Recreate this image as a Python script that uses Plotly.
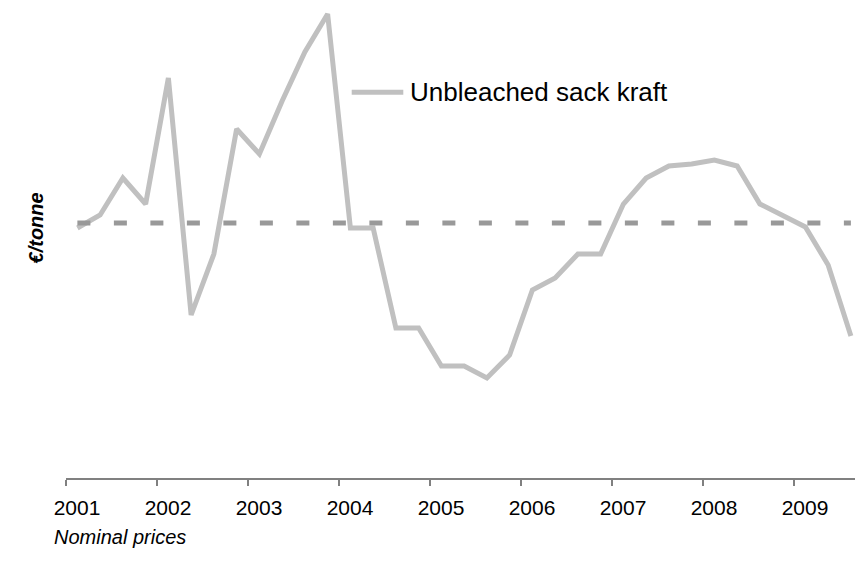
import plotly.graph_objects as go

# Quarterly data, 2001 Q1 .. 2009 Q3 (values in €/tonne, estimated)
quarters = [f"{y} Q{q}" for y in range(2001, 2010) for q in range(1, 5)][:35]
kraft_price = [595, 608, 645, 619, 745, 508, 569, 694, 669, 722, 771, 809,
               595, 595, 495, 495, 457, 457, 445, 468, 533, 545, 569, 569,
               619, 645, 657, 659, 663, 657, 619, 607, 596, 558, 487]
average_price = [600] * len(kraft_price)
year_labels = [str(y) for y in range(2001, 2010)]
series_name = "Unbleached sack kraft"

FONT = "Liberation Sans, Arial, sans-serif"
idx = list(range(len(quarters)))

fig = go.Figure()
fig.add_trace(go.Scatter(
    x=idx, y=kraft_price, mode="lines", name=series_name,
    line=dict(color="#c0c0c0", width=5), hoverinfo="skip",
    customdata=quarters,
))
fig.add_trace(go.Scatter(
    x=idx, y=average_price, mode="lines", name="Average",
    line=dict(color="#999999", width=5, dash="13px,23.5px"), hoverinfo="skip",
))

# legend-style key drawn next to the line
fig.add_shape(type="line", xref="paper", yref="paper",
              x0=0.3621, x1=0.4275, y0=0.8206, y1=0.8206,
              line=dict(color="#c0c0c0", width=5))
fig.add_annotation(text=series_name, xref="paper", yref="paper",
                   x=0.4335, y=0.8206, xanchor="left", yanchor="middle",
                   showarrow=False, font=dict(family=FONT, size=26, color="#000000"))

fig.add_annotation(text="<b><i>€/tonne</i></b>", xref="paper", yref="paper",
                   x=-0.0368, y=0.533, xanchor="center", yanchor="middle",
                   textangle=-90, showarrow=False,
                   font=dict(family=FONT, size=20, color="#000000"))
fig.add_annotation(text="<i>Nominal prices</i>", xref="paper", yref="paper",
                   x=-0.0177, y=-0.1255, xanchor="left", yanchor="middle",
                   showarrow=False, font=dict(family=FONT, size=20, color="#000000"))

fig.update_layout(
    width=855, height=563,
    margin=dict(l=66, r=0, t=8, b=85, autoexpand=False),
    paper_bgcolor="white", plot_bgcolor="white",
    showlegend=False,
    hovermode=False,
    xaxis=dict(
        range=[-0.5, 34.18],
        tickvals=[4 * i - 0.5 for i in range(len(year_labels))],
        ticktext=year_labels,
        ticklabelshift=11,
        ticklabelstandoff=4,
        automargin=False,
        ticks="outside", ticklen=6, tickwidth=1.5, tickcolor="#808080",
        showline=True, linecolor="#808080", linewidth=1.5,
        showgrid=False, zeroline=False,
        tickfont=dict(family=FONT, size=21, color="#000000"),
    ),
    yaxis=dict(range=[345, 815], visible=False, showgrid=False, zeroline=False),
)

fig.write_html(
    "out.html",
    config={"displayModeBar": False, "staticPlot": True},
    post_script="document.body.style.margin='0';document.body.style.overflow='hidden';",
)
